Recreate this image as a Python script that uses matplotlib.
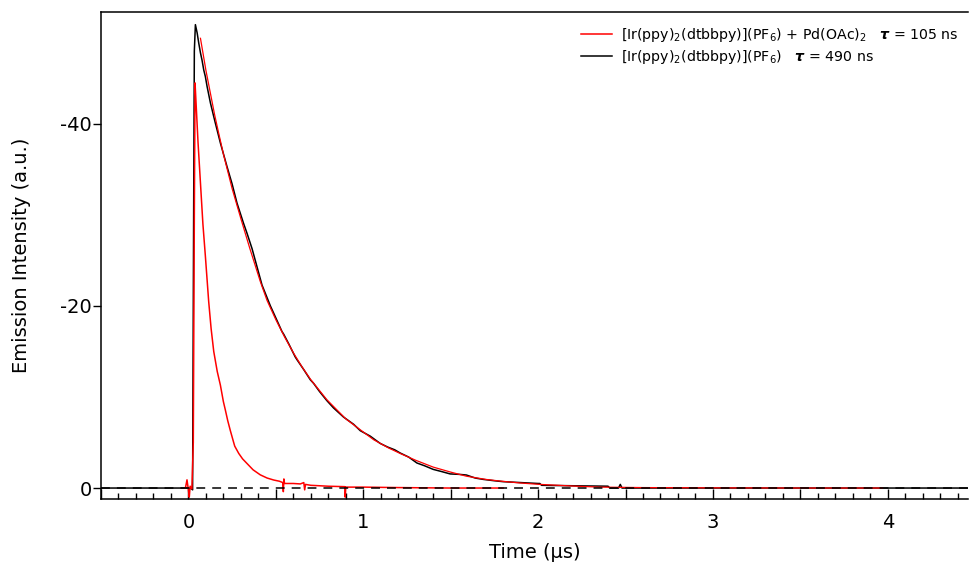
import matplotlib
matplotlib.use("Agg")
import matplotlib.pyplot as plt
from matplotlib.ticker import MultipleLocator, FuncFormatter

plt.rcParams['font.family'] = ['DejaVu Sans']
plt.rcParams['axes.unicode_minus'] = False
plt.rcParams['mathtext.fontset'] = 'dejavusans'

# Unquenched complex: measured emission trace (time in µs, intensity in a.u.)
ir_time = [-0.50, 0.00, 0.020, 0.024, 0.030, 0.034, 0.040, 0.050, 0.059, 0.069, 0.078,
           0.088, 0.097, 0.107, 0.126, 0.145, 0.154, 0.183, 0.202, 0.221, 0.250,
           0.278, 0.315, 0.335, 0.364, 0.411, 0.421, 0.469, 0.488, 0.535, 0.545,
           0.575, 0.611, 0.621, 0.660, 0.697, 0.716, 0.750, 0.792, 0.830, 0.887,
           0.945, 0.983, 1.040, 1.097, 1.140, 1.180, 1.211, 1.260, 1.307, 1.350,
           1.400, 1.450, 1.497, 1.550, 1.590, 1.640, 1.686, 1.750, 1.800, 1.900,
           2.000, 2.010, 2.020, 2.200, 2.400, 2.410, 2.460, 2.470, 2.480, 4.46]
ir_signal = [0.0, 0.0, 0.1, 0.2, -30.0, -48.0, -50.9, -50.0, -48.9, -47.8, -47.0,
             -45.9, -45.2, -44.1, -42.3, -40.8, -40.1, -37.9, -36.6, -35.3, -33.4,
             -31.3, -29.1, -28.0, -26.3, -23.0, -22.3, -20.0, -19.2, -17.2, -16.9,
             -15.8, -14.4, -14.1, -13.0, -11.9, -11.5, -10.6, -9.6, -8.8, -7.8,
             -7.0, -6.3, -5.7, -4.9, -4.5, -4.2, -3.85, -3.4, -2.75, -2.45,
             -2.05, -1.8, -1.55, -1.5, -1.43, -1.1, -0.95, -0.8, -0.7, -0.6,
             -0.5, -0.5, -0.3, -0.25, -0.2, 0.0, 0.0, -0.4, 0.0, 0.0]

# Mono-exponential fit of the unquenched trace
fit_time = [0.069, 0.10, 0.15, 0.173, 0.20, 0.25, 0.30, 0.35, 0.411, 0.45, 0.50,
            0.55, 0.602, 0.65, 0.70, 0.792, 0.90, 0.983, 1.06, 1.145, 1.211, 1.30,
            1.40, 1.50, 1.59, 1.70, 1.78, 1.90, 2.01, 2.20, 2.35, 2.60, 3.00,
            3.50, 3.97]
fit_signal = [-49.4, -45.9, -41.0, -39.0, -36.7, -32.9, -29.6, -26.4, -22.7, -20.6,
              -18.5, -16.6, -14.8, -13.3, -11.9, -9.7, -7.6, -6.4, -5.3, -4.4,
              -3.8, -3.05, -2.3, -1.75, -1.3, -0.95, -0.77, -0.55, -0.4, -0.22,
              -0.1, -0.05, -0.02, 0.0, 0.0]

# Complex with Pd(OAc)2 added: measured emission trace
pd_time = [-0.017, -0.008, 0.000, 0.005, 0.010, 0.020, 0.028, 0.034, 0.038, 0.042,
           0.055, 0.069, 0.083, 0.097, 0.116, 0.130, 0.145, 0.165, 0.183, 0.200,
           0.211, 0.225, 0.240, 0.259, 0.265, 0.288, 0.310, 0.335, 0.370, 0.411,
           0.450, 0.488, 0.520, 0.540, 0.543, 0.546, 0.550, 0.600, 0.640, 0.660,
           0.665, 0.670, 0.700, 0.800, 0.895, 0.897, 0.900, 1.000, 1.200, 1.500, 1.800]
pd_signal = [0.0, -0.9, 0.2, 1.0, -0.2, 0.1, -5.0, -30.0, -44.5, -43.0,
             -38.0, -33.5, -29.0, -25.5, -20.5, -17.5, -15.0, -12.8, -11.3, -9.5,
             -8.6, -7.4, -6.3, -5.0, -4.6, -3.8, -3.2, -2.7, -2.0, -1.45,
             -1.1, -0.88, -0.75, -0.6, 0.4, -1.0, -0.5, -0.5, -0.45, -0.6,
             0.2, -0.4, -0.3, -0.2, -0.15, 1.0, -0.1, -0.1, -0.05, 0.0, 0.0]

x_limits = (-0.5, 4.46)
y_limits = (1.2, -52.3)
y_ticks = [-40, -20, 0]

label_pd = (r'[Ir(ppy)$_2$(dtbbpy)](PF$_6$) + Pd(OAc)$_2$   '
            r'$\boldsymbol{\tau}$ = 105 ns')
label_ir = r'[Ir(ppy)$_2$(dtbbpy)](PF$_6$)   $\boldsymbol{\tau}$ = 490 ns'

fig = plt.figure(figsize=(9.69, 5.67), dpi=100)
ax = fig.add_axes([0.1042, 0.120, 0.895, 0.859])

ax.plot(ir_time, ir_signal, color='black', lw=1.1, zorder=3, label=label_ir)
ax.plot(fit_time, fit_signal, color='#ff0000', lw=0.9, zorder=4)
ax.plot(pd_time, pd_signal, color='#ff0000', lw=1.1, zorder=3, label=label_pd)
ax.axhline(0, color='black', lw=1.1, dashes=(5.8, 4.6), zorder=5)

ax.set_xlim(*x_limits)
ax.set_ylim(*y_limits)
ax.set_yticks(y_ticks)
ax.set_yticklabels([str(v) for v in y_ticks])

ax.xaxis.set_major_locator(MultipleLocator(0.5))
ax.xaxis.set_minor_locator(MultipleLocator(0.1))
ax.xaxis.set_major_formatter(
    FuncFormatter(lambda v, p: f'{int(round(v))}' if abs(v - round(v)) < 1e-6 else ''))

ax.tick_params(axis='x', which='major', direction='in', length=7, width=1.0,
               labelsize=14, pad=10)
ax.tick_params(axis='x', which='minor', direction='in', length=4.3, width=1.0)
ax.tick_params(axis='y', which='major', direction='out', length=5.5, width=1.0,
               labelsize=14, pad=1)

for side in ('left', 'bottom', 'top'):
    ax.spines[side].set_linewidth(1.1)
ax.spines['right'].set_visible(False)

ax.set_xlabel('Time (μs)', fontsize=14, labelpad=8)
ax.set_ylabel('Emission Intensity (a.u.)', fontsize=14, labelpad=21)

handles, labels = ax.get_legend_handles_labels()
ax.legend(handles[::-1], labels[::-1], loc='upper right', bbox_to_anchor=(0.995, 0.982),
          frameon=False, fontsize=10.2, handlelength=2.2, handletextpad=0.6,
          labelspacing=0.25, borderaxespad=0.0)

fig.savefig('out.png', dpi=100)
